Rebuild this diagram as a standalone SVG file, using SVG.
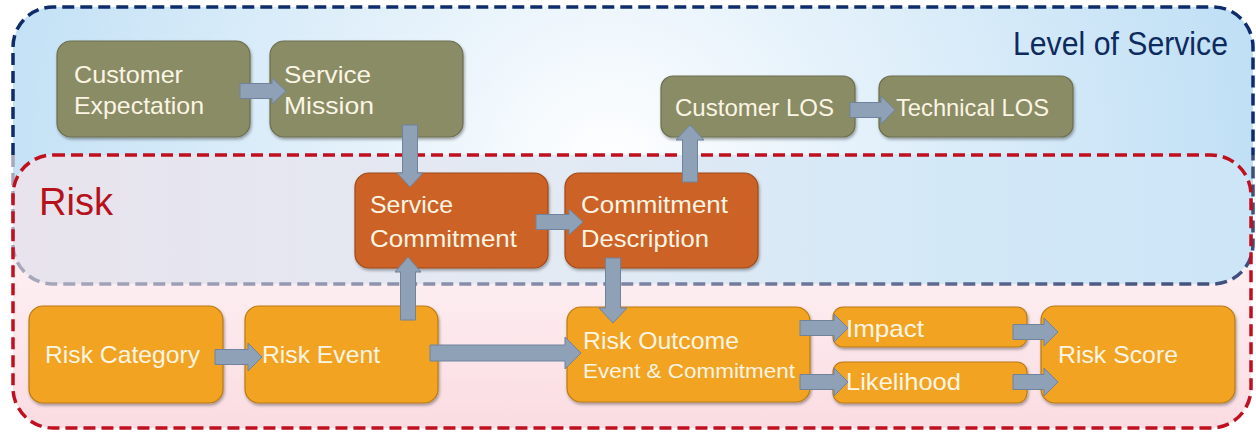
<svg xmlns="http://www.w3.org/2000/svg" width="1256" height="432" viewBox="0 0 1256 432">
  <defs>
    <radialGradient id="losFill" gradientUnits="userSpaceOnUse" cx="610" cy="170" r="660">
      <stop offset="0" stop-color="#ffffff"/>
      <stop offset="0.35" stop-color="#e6f2fb"/>
      <stop offset="1" stop-color="#bfdff5"/>
    </radialGradient>
    <linearGradient id="riskFill" x1="0" y1="284" x2="0" y2="428" gradientUnits="userSpaceOnUse">
      <stop offset="0" stop-color="#fdedf0"/>
      <stop offset="1" stop-color="#fadce2"/>
    </linearGradient>
    <linearGradient id="overlapFill" x1="13" y1="0" x2="1252" y2="0" gradientUnits="userSpaceOnUse">
      <stop offset="0" stop-color="#e8e3ec"/>
      <stop offset="0.45" stop-color="#e2eaf4"/>
      <stop offset="0.75" stop-color="#d3e8f7"/>
      <stop offset="1" stop-color="#cce5f7"/>
    </linearGradient>
    <linearGradient id="losLowerStroke" x1="13" y1="0" x2="1253" y2="0" gradientUnits="userSpaceOnUse">
      <stop offset="0" stop-color="#a8a8bc"/>
      <stop offset="0.5" stop-color="#7c84a2"/>
      <stop offset="1" stop-color="#3e4e7a"/>
    </linearGradient>
    <filter id="shadow" x="-10%" y="-10%" width="120%" height="130%">
      <feDropShadow dx="1" dy="2" stdDeviation="1.5" flood-color="#000" flood-opacity="0.35"/>
    </filter>
  </defs>
  <style>
    .zone { fill: none; stroke-width: 3.5; stroke-dasharray: 12 6; }
    .node { stroke-width: 1.2; filter: url(#shadow); }
    .olive { fill: #8a8c66; stroke: #6c6e4e; }
    .rust { fill: #cd6227; stroke: #9e4a1c; }
    .amber { fill: #f2a320; stroke: #b97b17; }
    .label { font-family: "Liberation Sans", Arial, sans-serif; font-size: 24px; fill: #fbf5e4; }
    .small { font-size: 20px; }
    .arrow { fill: #8fa1b7; stroke: #71839c; stroke-width: 1; }
    .title { font-family: "Liberation Sans", Arial, sans-serif; }
  </style>

  <!-- zone backgrounds -->
  <g id="zones">
    <rect x="13" y="7" width="1240" height="277" rx="40" fill="url(#losFill)"/>
    <rect x="13" y="155" width="1238" height="273" rx="40" fill="url(#riskFill)"/>
    <rect x="13" y="155" width="1239" height="129" rx="40" fill="url(#overlapFill)"/>
    <path class="zone" stroke="#0e2c6b" d="M13,155 V47 A40,40 0 0 1 53,7 H1213 A40,40 0 0 1 1253,47 V155"/>
    <path class="zone" stroke="url(#losLowerStroke)" d="M13,155 V244 A40,40 0 0 0 53,284 H1213 A40,40 0 0 0 1253,244 V155"/>
    <rect class="zone" stroke="#c00f1f" x="13" y="155" width="1238" height="273" rx="40"/>
    <text class="title" x="1228" y="55" font-size="33" fill="#0d2b5e" text-anchor="end" textLength="215" lengthAdjust="spacingAndGlyphs">Level of Service</text>
    <text class="title" x="39" y="215" font-size="38" fill="#b5121b" textLength="74" lengthAdjust="spacingAndGlyphs">Risk</text>
  </g>

  <!-- Level of Service nodes -->
  <g id="customer-expectation">
    <rect class="node olive" x="57" y="41" width="193" height="96" rx="14"/>
    <text class="label" x="74" y="83" textLength="109" lengthAdjust="spacingAndGlyphs">Customer</text>
    <text class="label" x="74" y="114" textLength="130" lengthAdjust="spacingAndGlyphs">Expectation</text>
  </g>
  <g id="service-mission">
    <rect class="node olive" x="270" y="41" width="193" height="96" rx="14"/>
    <text class="label" x="284" y="83" textLength="87" lengthAdjust="spacingAndGlyphs">Service</text>
    <text class="label" x="284" y="114" textLength="90" lengthAdjust="spacingAndGlyphs">Mission</text>
  </g>
  <g id="customer-los">
    <rect class="node olive" x="661" y="76" width="194" height="61" rx="12"/>
    <text class="label" x="675" y="116" textLength="159" lengthAdjust="spacingAndGlyphs">Customer LOS</text>
  </g>
  <g id="technical-los">
    <rect class="node olive" x="879" y="76" width="194" height="61" rx="12"/>
    <text class="label" x="896" y="116" textLength="153" lengthAdjust="spacingAndGlyphs">Technical LOS</text>
  </g>

  <!-- commitment nodes -->
  <g id="service-commitment">
    <rect class="node rust" x="355" y="173" width="193" height="95" rx="14"/>
    <text class="label" x="370" y="213" textLength="83" lengthAdjust="spacingAndGlyphs">Service</text>
    <text class="label" x="370" y="247" textLength="147" lengthAdjust="spacingAndGlyphs">Commitment</text>
  </g>
  <g id="commitment-description">
    <rect class="node rust" x="565" y="173" width="193" height="95" rx="14"/>
    <text class="label" x="581" y="213" textLength="147" lengthAdjust="spacingAndGlyphs">Commitment</text>
    <text class="label" x="581" y="247" textLength="128" lengthAdjust="spacingAndGlyphs">Description</text>
  </g>

  <!-- Risk nodes -->
  <g id="risk-category">
    <rect class="node amber" x="29" y="306" width="194" height="97" rx="14"/>
    <text class="label" x="45" y="363" textLength="155" lengthAdjust="spacingAndGlyphs">Risk Category</text>
  </g>
  <g id="risk-event">
    <rect class="node amber" x="245" y="306" width="193" height="97" rx="14"/>
    <text class="label" x="262" y="363" textLength="118" lengthAdjust="spacingAndGlyphs">Risk Event</text>
  </g>
  <g id="risk-outcome">
    <rect class="node amber" x="567" y="307" width="243" height="95" rx="14"/>
    <text class="label" x="583" y="349" textLength="156" lengthAdjust="spacingAndGlyphs">Risk Outcome</text>
    <text class="label small" x="583" y="378" textLength="212" lengthAdjust="spacingAndGlyphs">Event &amp; Commitment</text>
  </g>
  <g id="impact">
    <rect class="node amber" x="833" y="307" width="194" height="40" rx="10"/>
    <text class="label" x="846" y="337" textLength="78" lengthAdjust="spacingAndGlyphs">Impact</text>
  </g>
  <g id="likelihood">
    <rect class="node amber" x="833" y="362" width="194" height="41" rx="10"/>
    <text class="label" x="846" y="390" textLength="115" lengthAdjust="spacingAndGlyphs">Likelihood</text>
  </g>
  <g id="risk-score">
    <rect class="node amber" x="1041" y="306" width="194" height="97" rx="14"/>
    <text class="label" x="1058" y="363" textLength="120" lengthAdjust="spacingAndGlyphs">Risk Score</text>
  </g>

  <!-- block-arrow connectors -->
  <g id="connectors">
    <path class="arrow" d="M240,83.5 H272 V78 L286,91 L272,104 V98.5 H240 Z"/>
    <path class="arrow" d="M402.5,125 V173 H397 L410,187 L423,173 H417.5 V125 Z"/>
    <path class="arrow" d="M536,214.5 H569 V209 L583,222 L569,235 V229.5 H536 Z"/>
    <path class="arrow" d="M682.5,182 V140 H676 L690,125 L704,140 H697.5 V182 Z"/>
    <path class="arrow" d="M850,102.5 H881 V96 L895,110 L881,124 V117.5 H850 Z"/>
    <path class="arrow" d="M400.5,320 V272 H395 L408,257 L421,272 H415.5 V320 Z"/>
    <path class="arrow" d="M605.5,258 V308 H599 L613,323 L627,308 H620.5 V258 Z"/>
    <path class="arrow" d="M215,349.5 H248 V343 L262,357 L248,371 V364.5 H215 Z"/>
    <path class="arrow" d="M430,345 H565 V337 L581,353 L565,369 V361 H430 Z"/>
    <path class="arrow" d="M800,320.5 H834 V314 L848,328 L834,342 V335.5 H800 Z"/>
    <path class="arrow" d="M800,374.5 H834 V368 L848,382 L834,396 V389.5 H800 Z"/>
    <path class="arrow" d="M1013,324.5 H1044 V318 L1058,332 L1044,346 V339.5 H1013 Z"/>
    <path class="arrow" d="M1013,374.5 H1044 V368 L1058,382 L1044,396 V389.5 H1013 Z"/>
  </g>
</svg>
